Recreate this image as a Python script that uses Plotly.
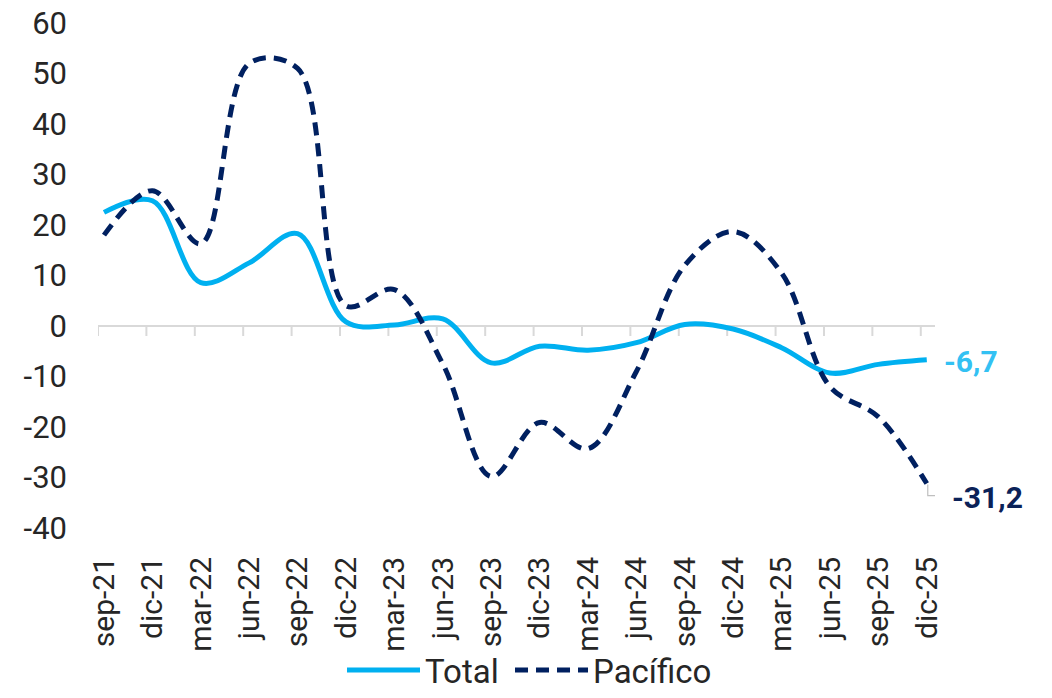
import plotly.graph_objects as go

categories = ["sep-21", "dic-21", "mar-22", "jun-22", "sep-22", "dic-22", "mar-23", "jun-23",
              "sep-23", "dic-23", "mar-24", "jun-24", "sep-24", "dic-24", "mar-25", "jun-25",
              "sep-25", "dic-25"]
total = [22.5, 24.8, 8.6, 12.5, 18.3, 0.8, 0.2, 1.4, -7.3, -4.0, -4.8, -3.3, 0.3, -0.6,
         -4.3, -9.3, -7.6, -6.7]
pacifico = [18.0, 26.8, 16.3, 52.0, 51.0, 4.0, 7.2, -7.5, -29.8, -19.1, -24.3, -9.0, 12.0,
            18.7, 10.5, -12.0, -18.0, -31.2]
y_ticks = [-40, -30, -20, -10, 0, 10, 20, 30, 40, 50, 60]
series_names = ["Total", "Pacífico"]
end_labels = ["-6,7", "-31,2"]

FONT = "Roboto"
C_TOTAL = "#00B0F0"
C_PAC = "#002060"

fig = go.Figure()
fig.add_trace(go.Scatter(
    x=categories, y=total, name=series_names[0], mode="lines", legend="legend",
    line=dict(color=C_TOTAL, width=5, shape="spline", smoothing=1.0),
))
fig.add_trace(go.Scatter(
    x=categories, y=pacifico, name=series_names[1], mode="lines", legend="legend2",
    line=dict(color=C_PAC, width=5, shape="spline", smoothing=1.0, dash="13px,8px"),
))

shapes = [dict(type="line", xref="paper", yref="y", x0=0, x1=1, y0=0, y1=0,
               line=dict(color="#D9D9D9", width=2), layer="below")]
for c in categories:
    shapes.append(dict(type="line", xref="x", yref="y",
                       xsizemode="pixel", xanchor=c, x0=-6, x1=-6,
                       ysizemode="pixel", yanchor=0, y0=0, y1=-10,
                       line=dict(color="#D9D9D9", width=2), layer="below"))
# leader line for the last Pacífico label
shapes.append(dict(type="path", xref="x", yref="y",
                   xsizemode="pixel", xanchor=categories[-1],
                   ysizemode="pixel", yanchor=pacifico[-1],
                   path="M 1,-1 L 1,-12 L 15,-12",
                   line=dict(color="#BFBFBF", width=1.2)))

annotations = [
    dict(x=categories[-1], y=total[-1], xref="x", yref="y", text=end_labels[0],
         showarrow=False, xanchor="left", yanchor="middle", xshift=15, yshift=-2,
         font=dict(family=FONT, size=30, color="#33C1F3", weight="bold")),
    dict(x=categories[-1], y=pacifico[-1], xref="x", yref="y", text=end_labels[1],
         showarrow=False, xanchor="left", yanchor="middle", xshift=23, yshift=-14,
         font=dict(family=FONT, size=30, color="#0B2258", weight="bold")),
]

legend_common = dict(orientation="h", xref="container", yref="container", y=-0.016,
                     yanchor="bottom", xanchor="left",
                     font=dict(family=FONT, size=33, color="#262626"),
                     itemwidth=73, bgcolor="rgba(0,0,0,0)")

fig.update_layout(
    width=1052, height=698,
    margin=dict(l=98, r=117, t=23, b=170, pad=0, autoexpand=False),
    paper_bgcolor="white", plot_bgcolor="white",
    font=dict(family=FONT, size=30, color="#262626"),
    shapes=shapes, annotations=annotations,
    showlegend=True,
    legend=dict(x=0.3251, **legend_common),
    legend2=dict(x=0.4848, **legend_common),
)
fig.update_xaxes(type="category", range=[-0.124, 17.17], tickangle=-90, automargin=False,
                 showgrid=False, zeroline=False, showline=False, ticks="",
                 ticklabelstandoff=22, tickfont=dict(size=30, color="#262626"))
fig.update_yaxes(range=[-40, 60], tickvals=y_ticks, ticktext=[str(v) for v in y_ticks],
                 automargin=False, ticklabeloverflow="allow",
                 showgrid=False, zeroline=False, showline=False, ticks="",
                 ticklabelstandoff=30, tickfont=dict(size=31, color="#262626"))

# remove the default 8px page margin so the figure fills the window exactly
fig.write_html("out.html", config={"displayModeBar": False},
               post_script="document.body.style.margin='0';document.body.style.padding='0';")
